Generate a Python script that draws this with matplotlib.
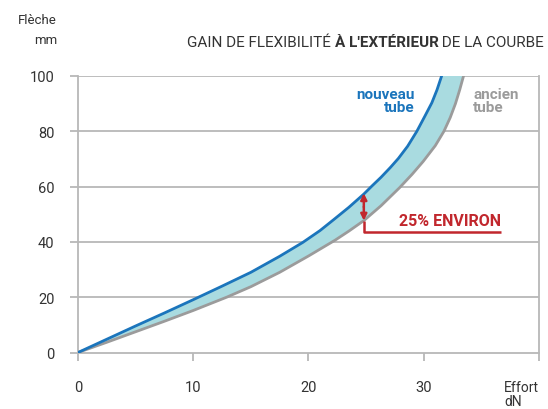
import matplotlib
matplotlib.use("Agg")
import matplotlib.pyplot as plt
import numpy as np

# Data (Effort dN -> Flèche mm)
new_x = [0, 2.5, 5, 7.5, 10, 12.5, 15, 17.5, 19.5, 21, 22.2, 23.5, 24.8, 25.5, 26.3, 27.1, 27.8,
         28.6, 29.4, 30.1, 30.7, 31.15, 31.55]
new_y = [0, 4.8, 9.6, 14.3, 19.1, 24.0, 29.0, 34.8, 39.8, 44.1, 48.1, 52.5, 57.3, 60.2, 63.4, 66.9, 70.2,
         74.6, 80, 85.5, 90.3, 95, 100]
old_x = [0, 2.5, 5, 7.5, 10, 12.9, 15, 17.5, 20, 22.3, 23.5, 24.8, 26.3, 27.9, 29, 29.95, 31,
         31.75, 32.3, 32.75, 33.12, 33.45]
old_y = [0, 3.7, 7.5, 11.3, 15.2, 20, 23.8, 29.0, 34.9, 40.6, 43.9, 47.7, 53.1, 59.6, 64.5, 69.1, 74.8,
         80, 85, 90, 95, 100]

x_ticks = [0, 10, 20, 30]
y_ticks = [0, 20, 40, 60, 80, 100]

arrow_x = 24.8
arrow_top = 57.6
arrow_bot = 47.7
elbow_y = 43.5
elbow_end = 36.7

BLUE = "#1b75bc"
GRAY = "#9b9b9b"
FILL = "#a9dbe0"
RED = "#c1272d"
GRID = "#b8b8b8"
TXT = "#333333"

plt.rcParams['font.family'] = ['Roboto', 'DejaVu Sans']

fig = plt.figure(figsize=(5.48, 4.10), dpi=100)
ax = fig.add_axes([0.1423, 0.1378, 0.8413, 0.6744])
ax.set_xlim(0, 40)
ax.set_ylim(0, 100)

for yv in y_ticks[1:]:
    ax.axhline(yv, color=GRID, lw=1.3, zorder=1)

ax.fill(np.concatenate([new_x, old_x[::-1]]), np.concatenate([new_y, old_y[::-1]]),
        color=FILL, lw=0, zorder=2)
ax.plot(old_x, old_y, color=GRAY, lw=2.0, zorder=3, solid_joinstyle='round')
ax.plot(new_x, new_y, color=BLUE, lw=2.0, zorder=4, solid_joinstyle='round')

for s in ['left', 'bottom', 'right']:
    ax.spines[s].set_color(GRID)
    ax.spines[s].set_linewidth(1.3)
ax.spines['top'].set_visible(False)

ax.set_xticks(x_ticks + [40])
ax.set_xticklabels([str(v) for v in x_ticks] + [""])
ax.set_yticks(y_ticks)
ax.set_yticklabels([str(v) for v in y_ticks])
ax.tick_params(axis='both', colors=GRID, length=6, width=1.3, labelsize=10.5, labelcolor=TXT)
ax.tick_params(axis='x', pad=14)
ax.tick_params(axis='y', pad=11)

# arrow
mid = (arrow_top + arrow_bot) / 2
ax.annotate("", xy=(arrow_x, arrow_top), xytext=(arrow_x, mid),
            arrowprops=dict(arrowstyle='-|>', color=RED, lw=1.8, mutation_scale=9, shrinkA=0, shrinkB=0), zorder=6)
ax.annotate("", xy=(arrow_x, arrow_bot), xytext=(arrow_x, mid),
            arrowprops=dict(arrowstyle='-|>', color=RED, lw=1.8, mutation_scale=9, shrinkA=0, shrinkB=0), zorder=6)
ax.plot([arrow_x, arrow_x, elbow_end], [arrow_bot, elbow_y, elbow_y], color=RED, lw=1.8, zorder=6,
        solid_capstyle='butt')
ax.text(elbow_end, elbow_y + 1.6, "25% ENVIRON", color=RED, fontsize=11.5, fontweight='bold',
        ha='right', va='bottom', zorder=6)

ax.text(29.2, 96, "nouveau\ntube", color=BLUE, fontsize=11, fontweight='bold',
        ha='right', va='top', multialignment='right', linespacing=0.9)
ax.text(34.3, 96, "ancien\ntube", color=GRAY, fontsize=11, fontweight='bold',
        ha='left', va='top', multialignment='left', linespacing=0.9)

# axis titles
fig.text(57 / 548, 1 - 31 / 410, "Flèche\nmm", ha='right', va='center', multialignment='right',
         fontsize=9.5, color=TXT, linespacing=1.7)
ax.text(40, -10, "Effort\ndN", ha='right', va='top', multialignment='left', fontsize=10,
        color=TXT, linespacing=1.0)

# title with mixed weight
t1 = fig.text(187 / 548, 1 - 43 / 410, "GAIN DE FLEXIBILITÉ ", ha='left', va='center',
              fontsize=11, color=TXT)
t2 = ax.annotate("À L'EXTÉRIEUR", xy=(1, 0), xycoords=t1, va='bottom', ha='left',
                 fontsize=11, fontweight='bold', color=TXT)
t3 = ax.annotate(" DE LA COURBE", xy=(1, 0), xycoords=t2, va='bottom', ha='left',
                 fontsize=11, color=TXT)

fig.savefig("out.png", dpi=100)
